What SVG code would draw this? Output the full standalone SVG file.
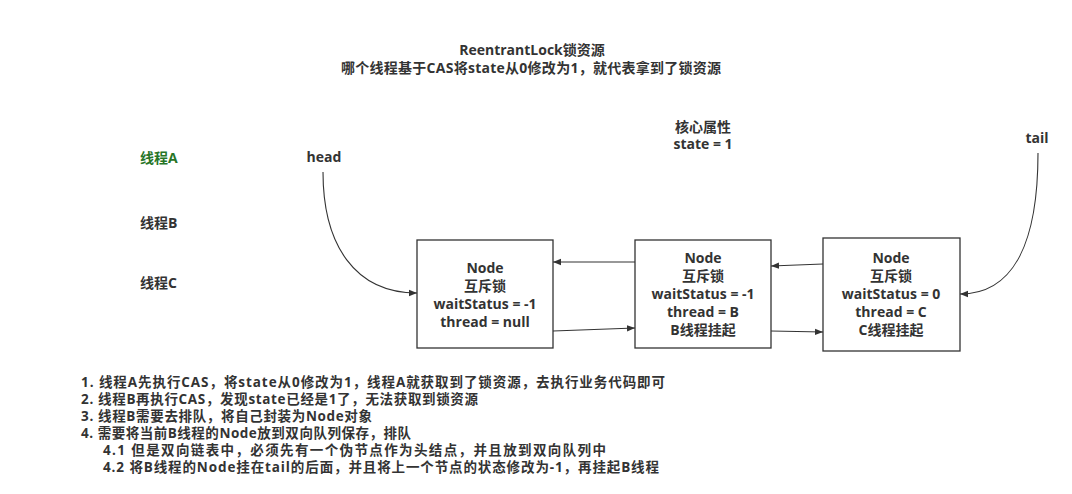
<svg xmlns="http://www.w3.org/2000/svg" width="1072" height="494" viewBox="0 0 1072 494">
<style>
text{font-family:"Open Sans","Noto Sans CJK SC",sans-serif;font-weight:bold;font-size:14px;fill:#333}
.c{text-anchor:middle}
.n{font-size:13.5px}
.box{fill:#fff;stroke:#333;stroke-width:1.3}
.edge{fill:none;stroke:#333;stroke-width:1.1}
</style>
<defs>
<marker id="ah" viewBox="0 0 10 10" refX="10" refY="5" markerWidth="8" markerHeight="8" markerUnits="userSpaceOnUse" orient="auto">
<path d="M0,1 L10,5 L0,9 Z" fill="#333"/>
</marker>
</defs>
<rect width="1072" height="494" fill="#fff"/>
<g id="title">
<text class="c" x="532" y="55">ReentrantLock锁资源</text>
<text class="c" x="531" y="73" textLength="380" lengthAdjust="spacing">哪个线程基于CAS将state从0修改为1，就代表拿到了锁资源</text>
</g>
<g id="core">
<text class="c" x="703" y="132">核心属性</text>
<text class="c" x="703" y="149">state = 1</text>
</g>
<g id="threads">
<text x="140" y="163" style="fill:#277527">线程A</text>
<text x="140" y="228">线程B</text>
<text x="140" y="288">线程C</text>
</g>
<g id="head"><text class="c" x="324" y="162">head</text></g>
<g id="tail"><text class="c" x="1037" y="143">tail</text></g>
<g id="node1">
<rect class="box" x="417" y="240" width="136" height="108"/>
<text class="c" x="485" y="273">Node</text>
<text class="c" x="485" y="291">互斥锁</text>
<text class="c" x="485" y="309">waitStatus = -1</text>
<text class="c" x="485" y="327">thread = null</text>
</g>
<g id="node2">
<rect class="box" x="635" y="240" width="136" height="108"/>
<text class="c" x="703" y="263">Node</text>
<text class="c" x="703" y="281">互斥锁</text>
<text class="c" x="703" y="299">waitStatus = -1</text>
<text class="c" x="703" y="317">thread = B</text>
<text class="c" x="703" y="335">B线程挂起</text>
</g>
<g id="node3">
<rect class="box" x="823" y="238" width="137" height="113"/>
<text class="c" x="891" y="263">Node</text>
<text class="c" x="891" y="281">互斥锁</text>
<text class="c" x="891" y="299">waitStatus = 0</text>
<text class="c" x="891" y="317">thread = C</text>
<text class="c" x="891" y="335">C线程挂起</text>
</g>
<g id="connectors">
<path class="edge" d="M323,172 C323,245 355,293 417,293" marker-end="url(#ah)"/>
<path class="edge" d="M1038,153 C1038,240 1015,294 960,294" marker-end="url(#ah)"/>
<path class="edge" d="M635,262 L553,262" marker-end="url(#ah)"/>
<path class="edge" d="M553,331 L635,328" marker-end="url(#ah)"/>
<path class="edge" d="M823,264 L771,266" marker-end="url(#ah)"/>
<path class="edge" d="M771,331 L823,332" marker-end="url(#ah)"/>
</g>
<g id="notes">
<text class="n" x="81" y="387" textLength="584" lengthAdjust="spacing">1. 线程A先执行CAS，将state从0修改为1，线程A就获取到了锁资源，去执行业务代码即可</text>
<text class="n" x="81" y="404" textLength="397" lengthAdjust="spacing">2. 线程B再执行CAS，发现state已经是1了，无法获取到锁资源</text>
<text class="n" x="81" y="421" textLength="291" lengthAdjust="spacing">3. 线程B需要去排队，将自己封装为Node对象</text>
<text class="n" x="81" y="438" textLength="330" lengthAdjust="spacing">4. 需要将当前B线程的Node放到双向队列保存，排队</text>
<text class="n" x="103" y="455" textLength="503" lengthAdjust="spacing">4.1 但是双向链表中，必须先有一个伪节点作为头结点，并且放到双向队列中</text>
<text class="n" x="103" y="472" textLength="556" lengthAdjust="spacing">4.2 将B线程的Node挂在tail的后面，并且将上一个节点的状态修改为-1，再挂起B线程</text>
</g>
</svg>
